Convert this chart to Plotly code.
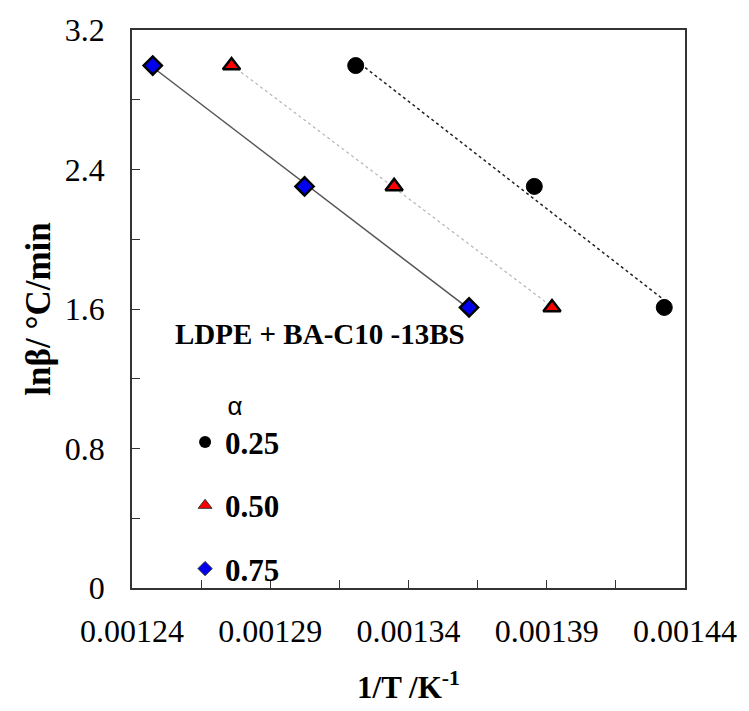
import numpy as np
import plotly.graph_objects as go

# Data
alpha_labels = ["0.25", "0.50", "0.75"]
x_a025 = [0.0013209, 0.0013855, 0.0014325]
x_a050 = [0.0012760, 0.0013348, 0.0013919]
x_a075 = [0.0012475, 0.0013024, 0.0013619]
ln_beta = [2.996, 2.303, 1.609]

x_ticks = [0.00124, 0.00129, 0.00134, 0.00139, 0.00144]
y_ticks = [0, 0.8, 1.6, 2.4, 3.2]

SERIF = "Liberation Serif"

series = [
    (x_a025, "0.25", dict(symbol="circle", color="black", size=16, line=dict(color="black", width=1)),
     dict(color="#222222", width=1.5, dash="dot"), dict(symbol="circle", color="black", size=12)),
    (x_a050, "0.50", dict(symbol="triangle-up", color="#ff0000", size=15, line=dict(color="black", width=2.5)),
     dict(color="#b5b5b5", width=1.2, dash="dot"), dict(symbol="triangle-up", color="#ff0000", size=12, line=dict(color="#333", width=1))),
    (x_a075, "0.75", dict(symbol="diamond", color="#0000ee", size=14, line=dict(color="black", width=2.5)),
     dict(color="#555555", width=1.5), dict(symbol="diamond", color="#0000ee", size=11, line=dict(color="#333", width=1))),
]

fig = go.Figure()
for i, (xs, name, mk, ln, lmk) in enumerate(series):
    xs_arr = np.array(xs)
    ys_arr = np.array(ln_beta)
    k, b = np.polyfit(xs_arr, ys_arr, 1)
    xl = np.array([xs_arr.min(), xs_arr.max()])
    fig.add_trace(go.Scatter(x=xl, y=k * xl + b, mode="lines", line=ln,
                             showlegend=False, hoverinfo="skip"))
    fig.add_trace(go.Scatter(x=xs, y=ln_beta, mode="markers", marker=mk,
                             showlegend=False))
    # legend-only entries
    fig.add_trace(go.Scatter(x=[None], y=[None], mode="markers", marker=lmk,
                             name="<b>" + name + "</b>", legendgroup="g" + str(i),
                             showlegend=True))

fig.add_annotation(text="<b>LDPE + BA-C10 -13BS</b>", xref="paper", yref="paper",
                   x=0.340, y=0.456, showarrow=False,
                   font=dict(family=SERIF, size=29, color="black"))

axis_common = dict(showline=True, linecolor="#333", linewidth=1.5, mirror=True,
                   ticks="inside", ticklen=8, tickcolor="#333", showgrid=False,
                   zeroline=False,
                   tickfont=dict(family=SERIF, size=32, color="black"))

fig.update_xaxes(range=[0.00124, 0.00144], tickvals=x_ticks,
                 ticktext=[f"{v:.5f}" for v in x_ticks],
                 ticklabelstandoff=14,
                 minor=dict(dtick=0.000025, tick0=0.00124, ticks="inside", ticklen=8, tickcolor="#333"),
                 title=dict(text="<b>1/T /K<sup>-1</sup></b>", standoff=28,
                            font=dict(family=SERIF, size=31, color="black")),
                 **axis_common)
fig.update_yaxes(range=[0, 3.2], tickvals=y_ticks,
                 ticktext=["0", "0.8", "1.6", "2.4", "3.2"],
                 ticklabelstandoff=19,
                 minor=dict(dtick=0.4, tick0=0, ticks="inside", ticklen=8, tickcolor="#333"),
                 title=dict(text="<b>lnβ/ °C/min</b>", standoff=4,
                            font=dict(family=SERIF, size=35, color="black")),
                 **axis_common)

fig.update_layout(
    width=749, height=711,
    margin=dict(l=132, r=56, t=28, b=122),
    plot_bgcolor="white", paper_bgcolor="white",
    legend=dict(x=0.096, y=0.37, xanchor="left", yanchor="top",
                bgcolor="rgba(0,0,0,0)", tracegroupgap=20,
                title=dict(text="α", side="top center",
                           font=dict(family="Liberation Sans", size=26, color="black")),
                font=dict(family=SERIF, size=31, color="black")),
)

fig.write_html("out.html")
